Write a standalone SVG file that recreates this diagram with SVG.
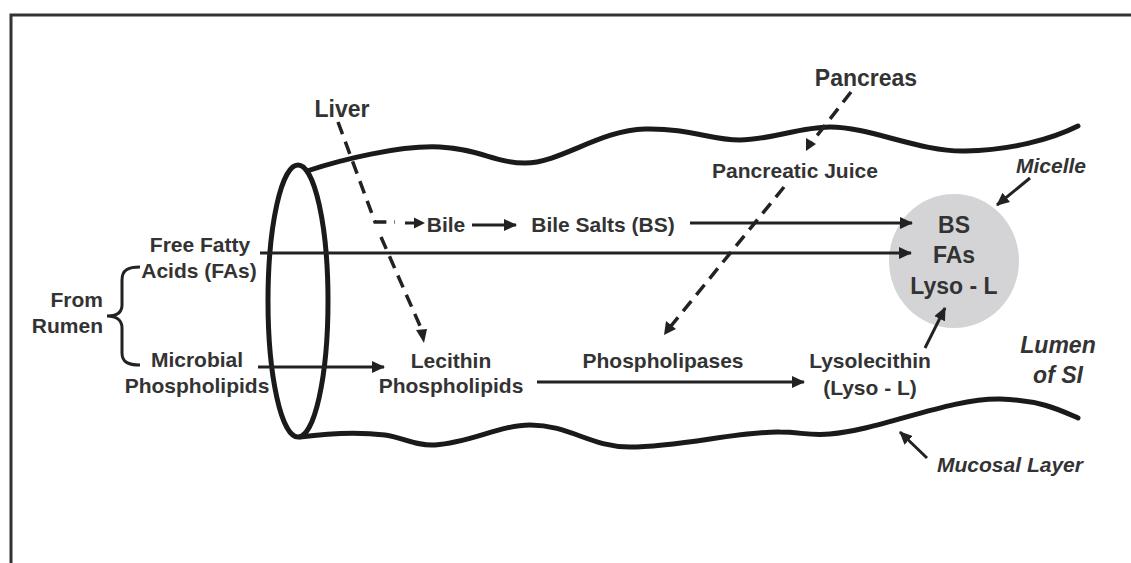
<svg xmlns="http://www.w3.org/2000/svg" width="1131" height="563" viewBox="0 0 1131 563">
<style>
.t{font-family:"Liberation Sans",Arial,sans-serif;font-weight:bold;font-size:21px;fill:#333;text-anchor:middle}
.big{font-size:23px}
.it{font-style:italic}
.wall{fill:none;stroke:#1a1a1a;stroke-width:5;stroke-linecap:round}
.arr{fill:none;stroke:#222;stroke-width:3;marker-end:url(#ah)}
.dash{fill:none;stroke:#222;stroke-width:3.5;stroke-dasharray:13 8}
</style>
<defs>
<marker id="ah" markerUnits="userSpaceOnUse" markerWidth="14" markerHeight="12" refX="12" refY="6" orient="auto">
<path d="M0,0 L13,6 L0,12 z" fill="#222"/>
</marker>
</defs>
<rect width="1131" height="563" fill="#fff"/>
<g id="frame">
<path d="M11,563 L11,15 L1131,15" fill="none" stroke="#333" stroke-width="3"/>
</g>
<g id="intestine">
<path class="wall" d="M307,171 C340,160 400,145 440,147 C480,149 495,163 525,163 C560,163 600,130 645,129 C690,128 710,140 740,140 C770,140 800,127 830,127 C870,127 920,152 965,151 C1010,150 1050,140 1078,126"/>
<path class="wall" d="M300,437 C330,433 360,432 385,435 C405,438 415,446 435,445 C470,443 500,425 530,425 C570,425 590,447 630,447 C680,447 740,431 780,432 C800,432 810,436 830,434 C880,430 950,398 1000,399 C1040,400 1060,410 1078,418"/>
<ellipse cx="298" cy="301" rx="30" ry="136" fill="none" stroke="#1a1a1a" stroke-width="5"/>
</g>
<g id="micelle-circle">
<ellipse cx="954" cy="261" rx="65" ry="67" fill="#d4d4d7"/>
<text class="t big" x="954" y="233">BS</text>
<text class="t big" x="954" y="263">FAs</text>
<text class="t big" x="954" y="294">Lyso - L</text>
</g>
<g id="connectors">
<path class="dash" d="M338,122 L375,222 L395,222" style="stroke-dasharray:13 8;stroke-dashoffset:0"/>
<path class="dash" d="M381,237 L424,335"/>
<path d="M424,343 L416,330 L427,329 z" fill="#222"/>
<path d="M405,223 L416,223" stroke="#222" stroke-width="3" fill="none"/>
<path d="M425,223 L414,217.5 L414,228.5 z" fill="#222"/>
<path class="arr" d="M472,225 L516,225"/>
<path class="arr" d="M690,223 L912,223"/>
<path class="arr" d="M260,253 L911,253"/>
<path class="arr" d="M258,367 L384,367"/>
<path class="arr" d="M537,382 L804,382"/>
<path class="dash" d="M851,92 L812,142"/>
<path d="M806,151 L806,138 L816,144 z" fill="#222"/>
<path class="dash" d="M784,187 L671,326"/>
<path d="M664,335 L666,321 L676,329 z" fill="#222"/>
<path class="arr" d="M1030,178 L997,205"/>
<path class="arr" d="M925,348 L945,308"/>
<path class="arr" d="M927,458 L900,432"/>
<path d="M140,267 C128,267 122,270 122,280 L122,305 C122,313 116,316 107,316 C116,316 122,320 122,328 L122,353 C122,362 128,365 140,365" fill="none" stroke="#222" stroke-width="3"/>
</g>
<g id="liver"><text class="t big" x="342" y="117">Liver</text></g>
<g id="pancreas"><text class="t big" x="866" y="86">Pancreas</text></g>
<g id="pancreatic-juice"><text class="t" x="795" y="178">Pancreatic Juice</text></g>
<g id="micelle-label"><text class="t it" x="1051" y="173">Micelle</text></g>
<g id="bile"><text class="t" x="446" y="232">Bile</text></g>
<g id="bile-salts"><text class="t" x="603" y="232">Bile Salts (BS)</text></g>
<g id="ffa"><text class="t" x="200" y="252">Free Fatty</text><text class="t" x="199" y="278">Acids (FAs)</text></g>
<g id="rumen"><text class="t" x="103" y="307" style="text-anchor:end">From</text><text class="t" x="103" y="333" style="text-anchor:end">Rumen</text></g>
<g id="microbial"><text class="t" x="197" y="367">Microbial</text><text class="t" x="197" y="393">Phospholipids</text></g>
<g id="lecithin"><text class="t" x="451" y="368">Lecithin</text><text class="t" x="451" y="393">Phospholipids</text></g>
<g id="phospholipases"><text class="t" x="663" y="368">Phospholipases</text></g>
<g id="lysolecithin"><text class="t" x="870" y="368">Lysolecithin</text><text class="t" x="870" y="395">(Lyso - L)</text></g>
<g id="lumen"><text class="t big it" x="1058" y="353">Lumen</text><text class="t big it" x="1058" y="383">of SI</text></g>
<g id="mucosal"><text class="t it" x="1010" y="472">Mucosal Layer</text></g>
</svg>
